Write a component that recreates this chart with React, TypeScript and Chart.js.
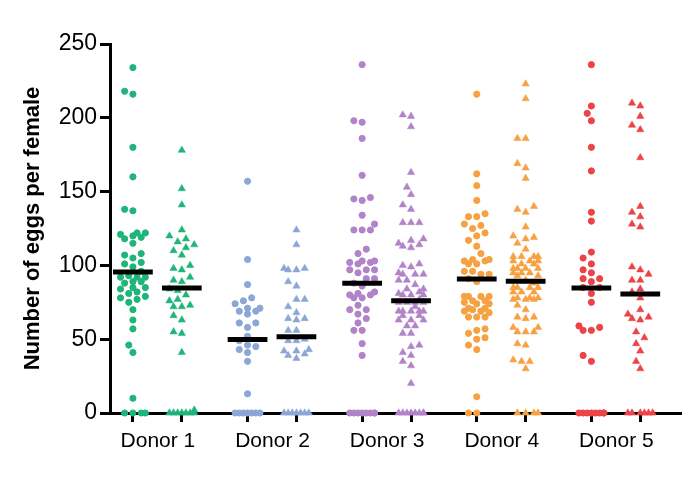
import React, { useEffect, useRef } from "react";
import { Chart, registerables } from "chart.js";

Chart.register(...registerables);

// ---- Data ----
const donorLabels = ["Donor 1", "Donor 2", "Donor 3", "Donor 4", "Donor 5"];
const yTicks = [0, 50, 100, 150, 200, 250];

const donor1Circles = [234, 218, 216, 180, 160, 138, 137, 122, 122, 121, 120, 119, 118, 115, 108, 107, 105, 102, 101, 99, 96, 93, 92, 92, 92, 89, 89, 88, 85, 85, 84, 82, 81, 79, 78, 77, 75, 70, 63, 57, 46, 41, 10, 0, 0, 0, 0];
const donor1Triangles = [178, 152, 141, 124, 120, 118, 116, 114, 112, 110, 107, 100, 98, 97, 92, 90, 89, 84, 83, 80, 77, 76, 73, 72, 72, 66, 63, 55, 54, 41, 2, 0, 0, 0, 0, 0, 0, 0];
const donor2Circles = [157, 104, 87, 78, 76, 74, 71, 71, 69, 69, 67, 61, 61, 58, 52, 49, 46, 45, 43, 41, 35, 13, 0, 0, 0, 0, 0, 0, 0];
const donor2Triangles = [124, 114, 98, 98, 97, 97, 89, 86, 77, 77, 72, 68, 64, 64, 63, 56, 56, 50, 49, 49, 43, 42, 42, 40, 39, 37, 0, 0, 0, 0, 0, 0, 0];
const donor3Circles = [236, 198, 197, 186, 161, 146, 145, 144, 134, 128, 124, 124, 124, 111, 108, 103, 103, 102, 102, 101, 97, 97, 97, 95, 91, 91, 88, 86, 82, 81, 80, 80, 78, 78, 73, 70, 70, 67, 64, 61, 56, 56, 47, 39, 0, 0, 0, 0, 0, 0, 0, 0];
const donor3Triangles = [202, 201, 194, 163, 153, 148, 141, 138, 129, 129, 129, 118, 117, 115, 114, 113, 112, 101, 100, 99, 95, 94, 94, 94, 90, 90, 87, 84, 84, 82, 81, 80, 80, 80, 77, 75, 75, 75, 75, 72, 69, 69, 69, 69, 69, 66, 66, 63, 63, 63, 59, 59, 54, 54, 46, 45, 41, 39, 35, 32, 20, 0, 0, 0, 0, 0, 0, 0, 0];
const donor4Circles = [216, 162, 154, 144, 135, 133, 133, 128, 127, 125, 122, 120, 117, 113, 108, 104, 104, 103, 103, 101, 101, 96, 96, 94, 94, 91, 89, 79, 79, 79, 79, 76, 76, 75, 74, 74, 71, 71, 70, 69, 69, 68, 65, 65, 65, 57, 56, 54, 51, 50, 46, 43, 11, 0, 0];
const donor4Triangles = [223, 213, 186, 186, 169, 166, 159, 140, 138, 136, 126, 120, 119, 118, 115, 111, 106, 106, 106, 106, 103, 103, 103, 101, 101, 98, 98, 98, 98, 95, 95, 95, 93, 93, 90, 88, 85, 85, 85, 85, 82, 82, 82, 78, 78, 78, 77, 77, 77, 73, 70, 65, 65, 64, 58, 58, 55, 55, 55, 47, 46, 36, 35, 35, 30, 0, 0, 0, 0];
const donor5Circles = [236, 208, 203, 198, 180, 164, 136, 130, 109, 105, 101, 97, 95, 91, 91, 89, 85, 85, 81, 75, 59, 58, 56, 56, 39, 35, 0, 0, 0, 0, 0, 0, 0, 0];
const donor5Triangles = [210, 208, 201, 195, 192, 173, 140, 136, 133, 128, 126, 99, 97, 94, 90, 90, 84, 82, 78, 70, 67, 65, 64, 63, 55, 51, 47, 42, 35, 30, 0, 0, 0, 0, 0, 0];

const circleSeries = [donor1Circles, donor2Circles, donor3Circles, donor4Circles, donor5Circles];
const triangleSeries = [donor1Triangles, donor2Triangles, donor3Triangles, donor4Triangles, donor5Triangles];
const circleMedians = [95.5, 49.8, 87.9, 90.8, 84.7];
const triangleMedians = [84.7, 51.6, 76.1, 89.2, 80.6];

// ---- Style / layout ----
const donorColors = ["#1fb57a", "#8ca6d6", "#b183c8", "#f6a142", "#ec4347"];
const FONT = "'Liberation Sans', Arial, Helvetica, sans-serif";
const GROUP_STEP = 3;
const PAIR_STEP = 1.28;
const X_MIN = -0.6;
const X_MAX = 14.32;
const PX_PER_X = 38.33;
const PX_PER_Y = 1.472;
const SLOT_PX = 4.15;
const MIN_DIST_PX = 8;
const MAX_SLOT = 3;
const MEDIAN_HALF = 0.52;

function swarm(values: number[], center: number) {
  const sorted = [...values].sort((a, b) => a - b);
  const cands: number[] = [0];
  for (let k = 1; k <= MAX_SLOT; k++) cands.push(-k * SLOT_PX, k * SLOT_PX);
  const placed: { x: number; y: number }[] = [];
  const out: { x: number; y: number }[] = [];
  for (const v of sorted) {
    const py = v * PX_PER_Y;
    let chosen: number | null = null;
    let best = cands[0];
    let bestD = -1;
    for (const c of cands) {
      let minD = Infinity;
      for (const p of placed) {
        if (Math.abs(p.y - py) < MIN_DIST_PX) {
          const d = Math.hypot(p.x - c, p.y - py);
          if (d < minD) minD = d;
        }
      }
      if (minD >= MIN_DIST_PX) {
        chosen = c;
        break;
      }
      if (minD >= bestD) {
        bestD = minD;
        best = c;
      }
    }
    const off = chosen !== null ? chosen : best;
    placed.push({ x: off, y: py });
    out.push({ x: center + off / PX_PER_X, y: v });
  }
  return out;
}

export default function App() {
  const canvasRef = useRef<HTMLCanvasElement | null>(null);

  useEffect(() => {
    if (!canvasRef.current) return;
    const datasets: any[] = [];
    const tickPositions: number[] = [];
    donorLabels.forEach((_, i) => {
      const cx = i * GROUP_STEP;
      const tx = i * GROUP_STEP + PAIR_STEP;
      tickPositions.push(cx, tx);
      const col = donorColors[i];
      datasets.push({
        label: donorLabels[i] + " median a",
        data: [
          { x: cx - MEDIAN_HALF, y: circleMedians[i] },
          { x: cx + MEDIAN_HALF, y: circleMedians[i] },
        ],
        showLine: true,
        borderColor: "#000",
        borderWidth: 5,
        borderCapStyle: "butt",
        pointRadius: 0,
        order: -1,
        clip: false,
      });
      datasets.push({
        label: donorLabels[i] + " median b",
        data: [
          { x: tx - MEDIAN_HALF, y: triangleMedians[i] },
          { x: tx + MEDIAN_HALF, y: triangleMedians[i] },
        ],
        showLine: true,
        borderColor: "#000",
        borderWidth: 5,
        borderCapStyle: "butt",
        pointRadius: 0,
        order: -1,
        clip: false,
      });
      datasets.push({
        label: donorLabels[i] + " circles",
        data: swarm(circleSeries[i], cx),
        pointStyle: "circle",
        pointRadius: 3.1,
        pointBackgroundColor: col,
        pointBorderColor: col,
        pointBorderWidth: 1,
        clip: false,
      });
      datasets.push({
        label: donorLabels[i] + " triangles",
        data: swarm(triangleSeries[i], tx),
        pointStyle: "triangle",
        pointRadius: 4.2,
        pointBackgroundColor: col,
        pointBorderColor: col,
        pointBorderWidth: 0.5,
        clip: false,
      });
    });

    const chart = new Chart(canvasRef.current, {
      type: "scatter",
      data: { datasets },
      options: {
        animation: false,
        responsive: false,
        events: [],
        layout: { padding: { left: 0, top: 44, right: 3, bottom: 0 } },
        plugins: { legend: { display: false }, tooltip: { enabled: false } },
        scales: {
          x: {
            type: "linear",
            min: X_MIN,
            max: X_MAX,
            afterBuildTicks: (scale: any) => {
              scale.ticks = tickPositions.map((v) => ({ value: v }));
            },
            afterFit: (scale: any) => {
              scale.height = 67;
            },
            border: { display: true, color: "#000", width: 3 },
            grid: {
              display: true,
              drawOnChartArea: false,
              drawTicks: true,
              tickLength: 9,
              color: "#000",
              lineWidth: 3,
            },
            ticks: {
              autoSkip: false,
              maxRotation: 0,
              minRotation: 0,
              labelOffset: 25,
              padding: 7,
              color: "#000",
              font: { family: FONT, size: 21 },
              callback: (_v: any, index: number) =>
                index % 2 === 0 ? donorLabels[index / 2] : "",
            },
          },
          y: {
            type: "linear",
            min: 0,
            max: 250,
            afterBuildTicks: (scale: any) => {
              scale.ticks = yTicks.map((v) => ({ value: v }));
            },
            afterFit: (scale: any) => {
              scale.width = 110;
            },
            border: { display: true, color: "#000", width: 3 },
            grid: {
              display: true,
              drawOnChartArea: false,
              drawTicks: true,
              tickLength: 10,
              color: "#000",
              lineWidth: 3,
            },
            ticks: {
              padding: 3,
              color: "#000",
              font: { family: FONT, size: 23 },
            },
            title: {
              display: true,
              text: "Number of eggs per female",
              color: "#000",
              font: { family: FONT, size: 22, weight: "bold" },
              padding: { top: 20, bottom: 0 },
            },
          },
        },
      } as any,
    });
    return () => chart.destroy();
  }, []);

  return (
    <div style={{ position: "absolute", left: 0, top: 0, width: 685, height: 480, background: "#fff" }}>
      <canvas ref={canvasRef} width={685} height={480} />
    </div>
  );
}
